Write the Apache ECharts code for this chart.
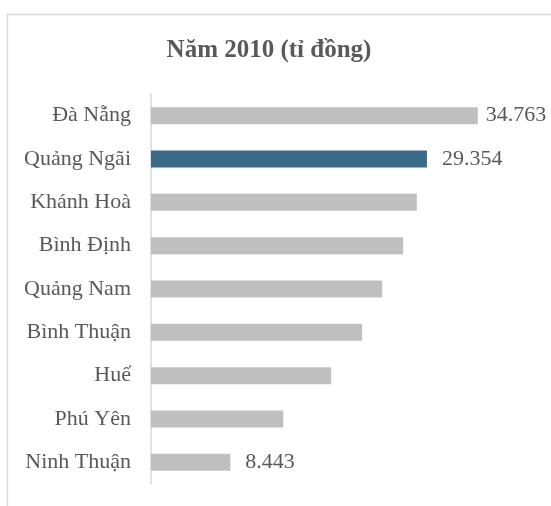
<!DOCTYPE html>
<html>
<head>
<meta charset="utf-8">
<script src="https://cdn.jsdelivr.net/npm/echarts@6/dist/echarts.min.js"></script>
<style>
  html, body { margin: 0; padding: 0; background: #ffffff; }
  #chart { width: 551px; height: 506px; }
</style>
</head>
<body>
<div id="chart"></div>
<script>
// Provinces, top to bottom
const provinces = ['Đà Nẵng', 'Quảng Ngãi', 'Khánh Hoà', 'Bình Định', 'Quảng Nam', 'Bình Thuận', 'Huế', 'Phú Yên', 'Ninh Thuận'];
// Value in 2010 (billion đồng)
const values2010 = [34.763, 29.354, 28.28, 26.82, 24.59, 22.46, 19.17, 14.07, 8.443];
// Provinces whose values are printed beside the bar
const labelled = ['Đà Nẵng', 'Quảng Ngãi', 'Ninh Thuận'];
const highlight = 'Quảng Ngãi';

const serif = '"Liberation Serif", "Times New Roman", "DejaVu Serif", serif';
const textGrey = '#595959';

const chart = echarts.init(document.getElementById('chart'), null, { renderer: 'canvas' });

const seriesData = provinces.map((name, i) => {
  const item = {
    value: values2010[i],
    itemStyle: { color: name === highlight ? '#3b6a89' : '#bfbfbf' }
  };
  if (labelled.includes(name)) {
    item.label = {
      show: true,
      position: 'right',
      distance: i === 0 ? 8 : 15,
      formatter: p => p.value.toFixed(3)
    };
  }
  return item;
});

chart.setOption({
  animation: false,
  backgroundColor: '#ffffff',
  graphic: [{
    type: 'rect',
    shape: { x: 7.5, y: 14.5, width: 600, height: 600 },
    style: { fill: 'none', stroke: '#d9d9d9', lineWidth: 1.5 },
    silent: true
  }],
  title: {
    text: 'Năm 2010 (tỉ đồng)',
    left: 264,
    textAlign: 'center',
    top: 33,
    textStyle: { fontFamily: serif, fontSize: 25, fontWeight: 'bold', color: textGrey }
  },
  grid: { left: 151, right: 24, top: 94, bottom: 22, containLabel: false },
  xAxis: {
    type: 'value',
    min: 0,
    max: 40,
    show: false,
    splitLine: { show: false }
  },
  yAxis: {
    type: 'category',
    data: provinces,
    inverse: true,
    axisLine: { show: true, lineStyle: { color: '#d9d9d9', width: 1.5 } },
    axisTick: { show: false },
    axisLabel: { fontFamily: serif, fontSize: 22, color: textGrey, margin: 20 },
    splitLine: { show: false }
  },
  series: [{
    type: 'bar',
    data: seriesData,
    barWidth: 17,
    label: { show: false, fontFamily: serif, fontSize: 22, color: textGrey }
  }]
});
</script>
</body>
</html>
